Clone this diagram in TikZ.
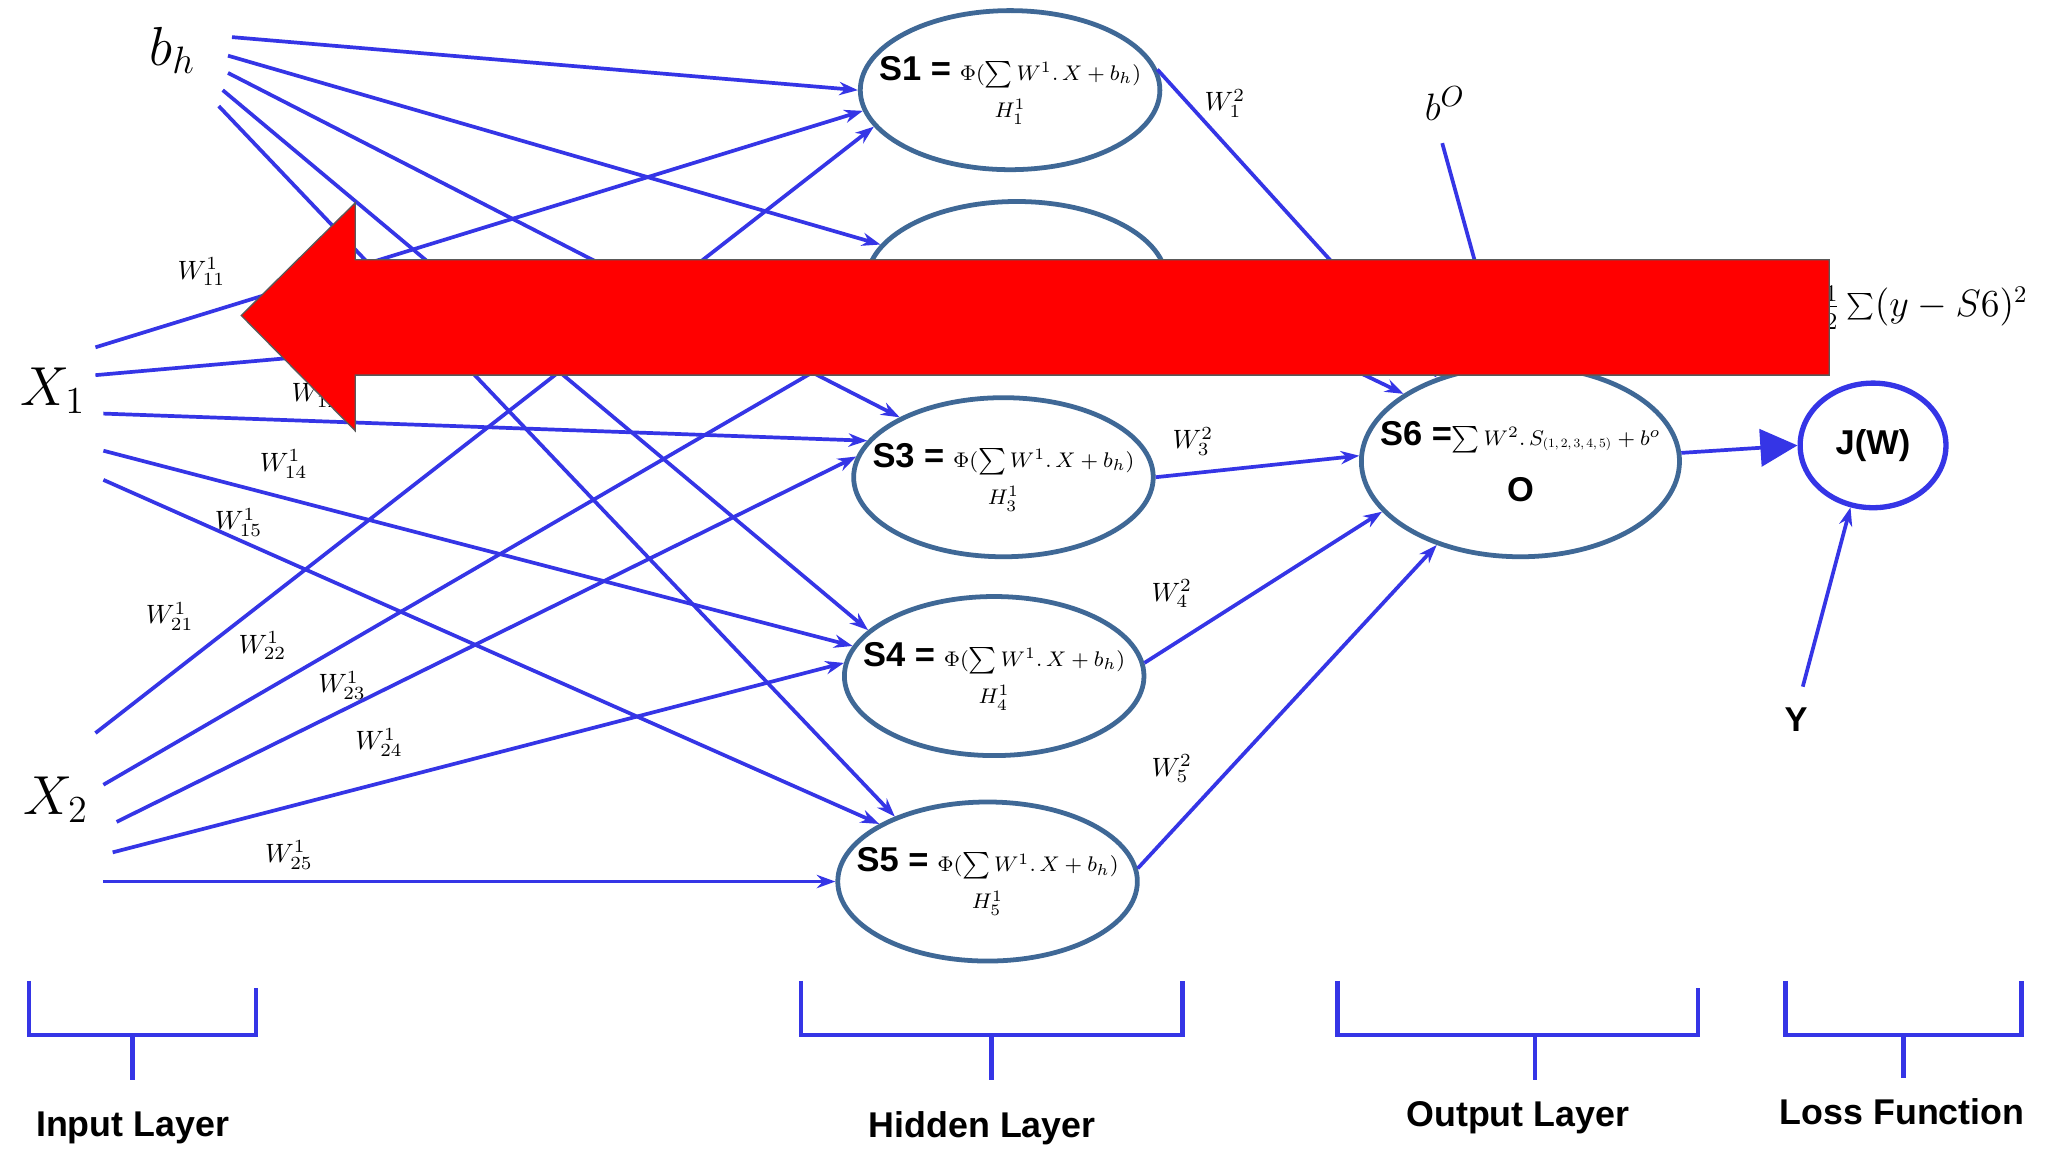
\documentclass[tikz,border=0pt]{standalone}
\usepackage{fontspec}
\setsansfont{Liberation Sans}
\usetikzlibrary{arrows.meta,shapes.geometric}
\definecolor{lblue}{HTML}{3535E6}
\definecolor{eblue}{HTML}{3F6896}
\tikzset{
  con/.style={lblue,line width=1.4pt},
  arr/.style={con,-{Stealth[length=7pt,width=5pt]}},
  hid/.style={draw=eblue,line width=1.8pt,ellipse,minimum width=113pt,minimum height=60pt,inner xsep=-14pt,inner ysep=-6pt},
  wl/.style={font=\fontsize{10}{10}\selectfont},
  brk/.style={lblue,line width=1.6pt},
  lay/.style={font=\sffamily\bfseries\fontsize{13.5}{13.5}\selectfont},
  stxt/.style={font=\sffamily\bfseries\fontsize{13}{13}\selectfont}
}
\newcommand{\hform}[2]{{\sffamily\bfseries\fontsize{13}{13}\selectfont #1 =} {\footnotesize$\Phi(\sum W^1.\,X+b_h)$}\\[2pt]{\footnotesize$H^1_{#2}$}}
\begin{document}
\begin{tikzpicture}[x=0.5pt,y=-0.5pt]
\useasboundingbox (0,0) rectangle (1545,869);
\fill[white] (0,0) rectangle (1545,869);
% input labels
\node[font=\fontsize{20}{20}\selectfont] (bh) at (130,38) {$b_h$};
\node[font=\fontsize{22}{22}\selectfont] (x1) at (40,295) {$X_1$};
\node[font=\fontsize{22}{22}\selectfont] (x2) at (42,603) {$X_2$};
% hidden nodes
\node[hid,align=center] (s1) at (762,68) {\hform{S1}{1}};
\node[hid] (s2) at (767,212) {};
\node[hid,align=center] (s3) at (757,360) {\hform{S3}{3}};
\node[hid,align=center] (s4) at (750,510) {\hform{S4}{4}};
\node[hid,align=center] (s5) at (745,665) {\hform{S5}{5}};
\node[hid,minimum width=120pt,minimum height=72pt,inner xsep=-16pt,align=center] (s6) at (1147,348)
  {{\sffamily\bfseries\fontsize{13}{13}\selectfont S6 =}{\footnotesize$\sum W^2.\,S_{\scalebox{0.6}{$(1,2,3,4,5)$}}+b^o$}\\[8pt]{\sffamily\bfseries\fontsize{13}{13}\selectfont O}};
\node[draw=lblue,line width=2pt,ellipse,minimum width=55pt,minimum height=47pt,inner sep=0pt,stxt] (j) at (1413,336) {J(W)};
% start coordinates
\coordinate (b1) at (175,28); \coordinate (b2) at (172,42); \coordinate (b3) at (172,55);
\coordinate (b4) at (168,68); \coordinate (b5) at (165,80);
\coordinate (a1) at (72,262); \coordinate (a2) at (72,283); \coordinate (a3) at (78,312);
\coordinate (a4) at (78,340); \coordinate (a5) at (78,362);
\coordinate (c1) at (72,553); \coordinate (c2) at (78,592); \coordinate (c3) at (88,620);
\coordinate (c4) at (85,643); \coordinate (c5) at (78,665);
\coordinate (bo) at (1088,108);
\coordinate (yy) at (1360,518);
% edges
\draw[arr] (b1) -- (s1.180);
\draw[arr] (b2) -- (s2.165);
\draw[arr] (b3) -- (s3.150);
\draw[arr] (b4) -- (s4.160);
\draw[arr] (b5) -- (s5.145);
\draw[arr] (a1) -- (s1.188);
\draw[arr] (a2) -- (s2.190);
\draw[arr] (a3) -- (s3.165);
\draw[arr] (a4) -- (s4.168);
\draw[arr] (a5) -- (s5.152);
\draw[arr] (c1) -- (s1.195);
\draw[arr] (c2) -- (s2.200);
\draw[arr] (c3) -- (s3.172);
\draw[arr] (c4) -- (s4.175);
\draw[arr] (c5) -- (s5.180);
\draw[arr] (s1.8) -- (s6.135);
\draw[arr] (s2.0) -- (s6.150);
\draw[arr] (s3.0) -- (s6.178);
\draw[arr] (s4.5) -- (s6.200);
\draw[arr] (s5.5) -- (s6.225);
\draw[arr] (bo) -- (s6.100);
\draw[con,-{Triangle[length=14pt,width=14pt]}] (s6.3) -- (j.west);
\draw[arr] (yy) -- (j.250);
% weight labels
\node[wl] (w11) at (152,205) {$W^1_{11}$};
\node[wl] (w12) at (238,297) {$W^1_{12}$};
\node[wl] (w14) at (214,350) {$W^1_{14}$};
\node[wl] (w15) at (180,394) {$W^1_{15}$};
\node[wl] (w21) at (128,465) {$W^1_{21}$};
\node[wl] (w22) at (198,487) {$W^1_{22}$};
\node[wl] (w23) at (258,517) {$W^1_{23}$};
\node[wl] (w24) at (286,560) {$W^1_{24}$};
\node[wl] (w25) at (218,645) {$W^1_{25}$};
\node[wl] (v1) at (924,78) {$W^2_1$};
\node[wl] (v3) at (900,333) {$W^2_3$};
\node[wl] (v4) at (884,448) {$W^2_4$};
\node[wl] (v5) at (884,580) {$W^2_5$};
\node[font=\fontsize{15}{15}\selectfont] (bol) at (1090,78) {$b^O$};
\node[font=\fontsize{13.5}{13.5}\selectfont,anchor=west,inner sep=0pt] (loss) at (1374,232) {$\frac{1}{2}\sum(y-S6)^2$};
\node[stxt] (ylab) at (1355,543) {Y};
% red arrow
\fill[red,draw=gray!70!black,line width=0.5pt] (182,238) -- (268,153) -- (268,196) -- (1380,196) -- (1380,283) -- (268,283) -- (268,325) -- cycle;
% brackets
\draw[brk] (22,740) -- (22,781) -- (193,781) -- (193,745);
\draw[brk] (100,781) -- (100,815);
\node[lay] (il) at (100,851) {Input Layer};
\draw[brk] (604,740) -- (604,781) -- (892,781) -- (892,740);
\draw[brk] (748,781) -- (748,815);
\node[lay] (hl) at (741,851) {Hidden Layer};
\draw[brk] (1009,740) -- (1009,781) -- (1281,781) -- (1281,745);
\draw[brk] (1158,781) -- (1158,815);
\node[lay] (ol) at (1145,843) {Output Layer};
\draw[brk] (1347,740) -- (1347,781) -- (1525,781) -- (1525,740);
\draw[brk] (1436,781) -- (1436,813);
\node[lay] (lf) at (1435,839) {Loss Function};
\end{tikzpicture}
\end{document}
